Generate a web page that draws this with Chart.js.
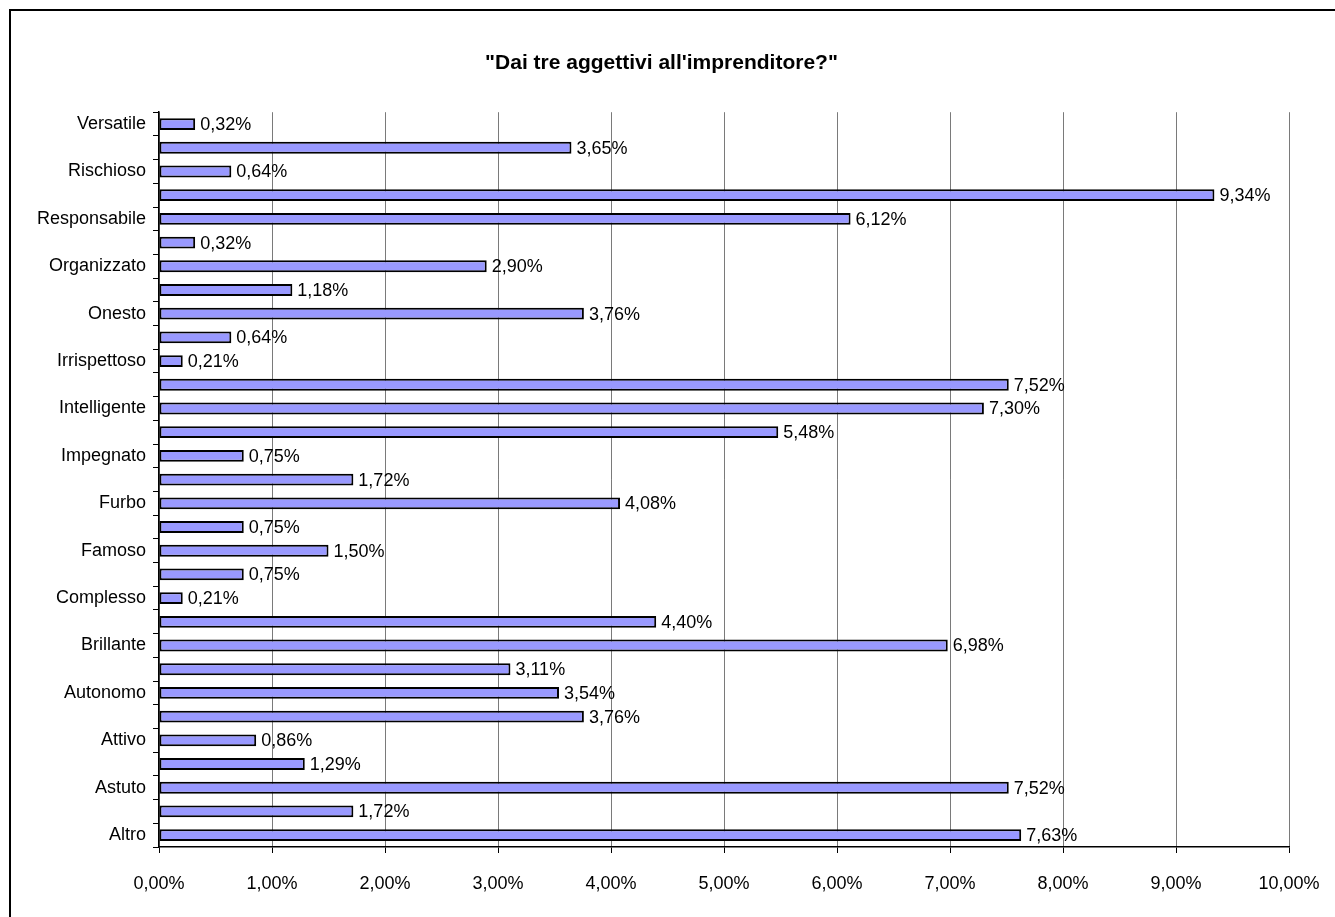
<!DOCTYPE html>
<html>
<head>
<meta charset="utf-8">
<script src="https://cdn.jsdelivr.net/npm/chart.js@4/dist/chart.umd.min.js"></script>
<style>
  html, body { margin: 0; padding: 0; background: #fff; }
  #wrap { width: 1335px; height: 917px; position: relative; }
</style>
</head>
<body>
<div id="wrap"><canvas id="aggettiviChart"></canvas></div>
<script>
// Risposte in ordine alfabetico (dal basso verso l'alto); i nomi intermedi non sono etichettati
const categorie = [
  'Altro', '', 'Astuto', '', 'Attivo', '', 'Autonomo', '', 'Brillante', '',
  'Complesso', '', 'Famoso', '', 'Furbo', '', 'Impegnato', '', 'Intelligente', '',
  'Irrispettoso', '', 'Onesto', '', 'Organizzato', '', 'Responsabile', '', 'Rischioso', '',
  'Versatile'
];
const percentuali = [
  7.63, 1.72, 7.52, 1.29, 0.86, 3.76, 3.54, 3.11, 6.98, 4.40,
  0.21, 0.75, 1.50, 0.75, 4.08, 1.72, 0.75, 5.48, 7.30, 7.52,
  0.21, 0.64, 3.76, 1.18, 2.90, 0.32, 6.12, 9.34, 0.64, 3.65,
  0.32
];
const tickX = [0, 1, 2, 3, 4, 5, 6, 7, 8, 9, 10];

const fmt = v => v.toFixed(2).replace('.', ',') + '%';
const FONT = 'Arial, "Liberation Sans", sans-serif';

// cornice esterna del grafico
const cornice = {
  id: 'cornice',
  beforeDraw(chart) {
    const ctx = chart.ctx;
    ctx.save();
    ctx.fillStyle = '#fff';
    ctx.fillRect(0, 0, chart.width, chart.height);
    ctx.strokeStyle = '#000';
    ctx.lineWidth = 2;
    ctx.strokeRect(10, 10, chart.width + 20, chart.height + 20);
    ctx.restore();
  }
};

// etichette dei valori a destra di ogni barra
const etichette = {
  id: 'etichette',
  afterDatasetsDraw(chart) {
    const ctx = chart.ctx;
    const meta = chart.getDatasetMeta(0);
    ctx.save();
    ctx.font = '18px ' + FONT;
    ctx.fillStyle = '#000';
    ctx.textAlign = 'left';
    ctx.textBaseline = 'middle';
    meta.data.forEach((bar, i) => {
      ctx.fillText(fmt(percentuali[i]), bar.x + 5, bar.y + 1);
    });
    ctx.restore();
  }
};

new Chart(document.getElementById('aggettiviChart'), {
  type: 'bar',
  data: {
    labels: categorie,
    datasets: [{
      data: percentuali,
      backgroundColor: '#9999ff',
      borderColor: '#000',
      borderWidth: 2,
      borderSkipped: false,
      barPercentage: 0.5,
      categoryPercentage: 1
    }]
  },
  options: {
    indexAxis: 'y',
    responsive: true,
    maintainAspectRatio: false,
    animation: false,
    layout: { padding: { left: 34, top: 0, right: 46, bottom: 0 } },
    plugins: {
      legend: { display: false },
      tooltip: { enabled: false },
      title: {
        display: true,
        text: '"Dai tre aggettivi all\'imprenditore?"',
        color: '#000',
        font: { family: FONT, size: 21, weight: 'bold' },
        padding: { top: 51, bottom: 36 }
      }
    },
    scales: {
      x: {
        min: 0, max: 10,
        afterBuildTicks: s => { s.ticks = tickX.map(v => ({ value: v })); },
        afterFit: s => { s.height = 70; s.paddingLeft = 0; s.paddingRight = 0; },
        grid: { color: '#7a7a7a', lineWidth: 1, tickColor: '#000', tickLength: 6 },
        border: { color: '#000', width: 1.5 },
        ticks: {
          color: '#000',
          font: { family: FONT, size: 18 },
          padding: 20,
          callback: v => fmt(v)
        }
      },
      y: {
        reverse: true,
        afterFit: s => { s.width = 125; },
        grid: { drawOnChartArea: false, offset: true, tickColor: '#000', tickLength: 6 },
        border: { color: '#000', width: 1.5 },
        ticks: {
          autoSkip: false,
          color: '#000',
          font: { family: FONT, size: 18 },
          padding: 7,
          callback: (v, i) => categorie[i]
        }
      }
    }
  },
  plugins: [cornice, etichette]
});
</script>
</body>
</html>
